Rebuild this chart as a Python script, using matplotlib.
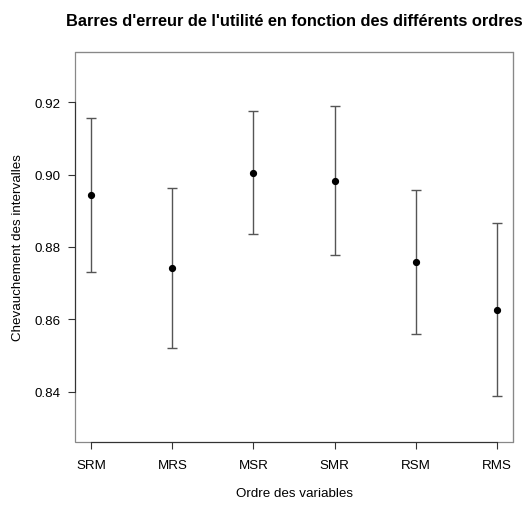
import matplotlib
matplotlib.use("Agg")
import matplotlib.pyplot as plt
from matplotlib.patches import Rectangle

plt.rcParams["font.family"] = ["Liberation Sans", "DejaVu Sans"]

orders = ["SRM", "MRS", "MSR", "SMR", "RSM", "RMS"]
means = [0.8944, 0.8741, 0.9005, 0.8983, 0.8758, 0.8627]
upper = [0.9156, 0.8962, 0.9177, 0.9189, 0.8957, 0.8866]
lower = [0.8731, 0.8521, 0.8835, 0.8778, 0.8558, 0.8388]
yticks = [0.84, 0.86, 0.88, 0.90, 0.92]

W, H = 524, 506
fig = plt.figure(figsize=(W / 100, H / 100), dpi=100)
ax = fig.add_axes([75 / W, 1 - 443.3 / H, (513 - 75) / W, (443.3 - 53.3) / H])

x = list(range(1, len(orders) + 1))
err = [[m - lo for m, lo in zip(means, lower)], [hi - m for m, hi in zip(means, upper)]]
ax.errorbar(x, means, yerr=err, fmt="none", ecolor="#555555", elinewidth=1.0,
            capsize=3.3, capthick=1.0)
ax.plot(x, means, "o", color="black", markersize=4.2)

# R style: 4% padding around the data range
ax.set_xlim(0.8, 6.2)
ax.set_ylim(0.826, 0.9338)
ax.set_xticks(x)
ax.set_xticklabels(orders)
ax.set_yticks(yticks)
ax.set_yticklabels(["%.2f" % v for v in yticks])
ax.tick_params(axis="both", direction="out", length=5.2, width=0.8, labelsize=9.6,
               colors="#333333", labelcolor="black")
ax.tick_params(axis="x", pad=6.5)
ax.tick_params(axis="y", pad=5.5)

for s in ["top", "right"]:
    ax.spines[s].set_color("#888888")
ax.spines["left"].set_bounds(0.84, 0.92)
ax.spines["bottom"].set_bounds(1, 6)
ax.spines["left"].set_color("#333333")
ax.spines["bottom"].set_color("#333333")
ax.add_patch(Rectangle((0, 0), 1, 1, transform=ax.transAxes, fill=False,
                       edgecolor="#888888", linewidth=0.9, clip_on=False, zorder=0))

fig.text(294 / W, 1 - 494 / H, "Ordre des variables", fontsize=9.6,
         ha="center", va="center")
fig.text(18 / W, 1 - 248 / H, "Chevauchement des intervalles", fontsize=9.6,
         rotation=90, ha="center", va="center")
fig.text(294 / W, 1 - 21 / H,
         "Barres d'erreur de l'utilité en fonction des différents ordres",
         fontsize=11.8, fontweight="bold", ha="center", va="center")

fig.savefig("out.png", dpi=100)
